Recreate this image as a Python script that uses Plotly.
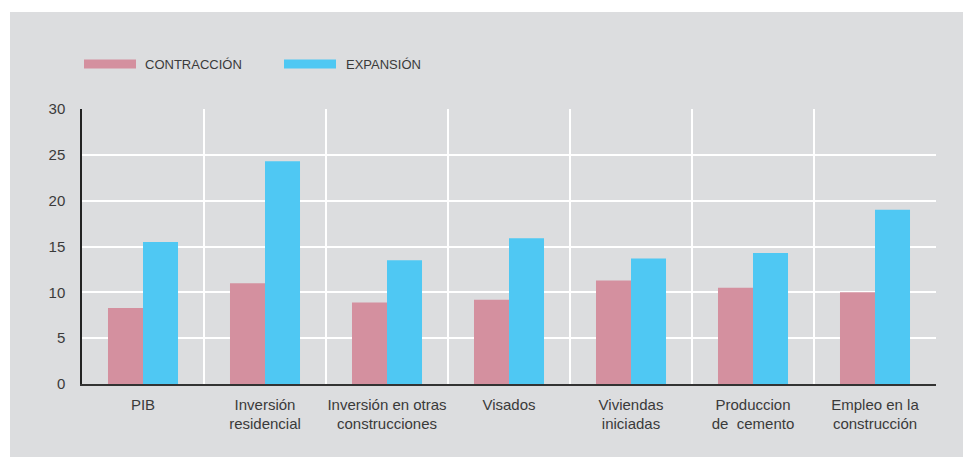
import plotly.graph_objects as go

categories = ["PIB", "Inversión<br>residencial", "Inversión en otras<br>construcciones",
              "Visados", "Viviendas<br>iniciadas", "Produccion<br>de  cemento",
              "Empleo en la<br>construcción"]
contraccion = [8.3, 11.0, 8.9, 9.2, 11.3, 10.5, 10.0]
expansion = [15.5, 24.3, 13.5, 15.9, 13.7, 14.3, 19.0]
series_names = ["CONTRACCIÓN", "EXPANSIÓN"]
yticks = [0, 5, 10, 15, 20, 25, 30]

PINK = "#d4909f"
BLUE = "#4fc8f3"
GRAY = "#dcdddf"
TEXT = "#3a3a3a"
FONT = "Liberation Sans, Arial, sans-serif"

W, H = 963, 457
L, R, T, B = 82, 27, 109, 73
PW, PH = W - L - R, H - T - B


def px(x):
    return (x - L) / PW


def py(y):
    return (H - B - y) / PH


fig = go.Figure()
fig.add_trace(go.Bar(x=categories, y=contraccion, name=series_names[0],
                     marker=dict(color=PINK, line=dict(width=0)), showlegend=False))
fig.add_trace(go.Bar(x=categories, y=expansion, name=series_names[1],
                     marker=dict(color=BLUE, line=dict(width=0)), showlegend=False))

shapes = [
    dict(type="rect", xref="paper", yref="paper", x0=px(10), x1=px(W + 5),
         y0=py(H + 5), y1=py(12), fillcolor=GRAY, line=dict(width=0), layer="below"),
    dict(type="rect", xref="paper", yref="paper", x0=px(84), x1=px(136),
         y0=py(68.5), y1=py(59.5), fillcolor=PINK, line=dict(width=0)),
    dict(type="rect", xref="paper", yref="paper", x0=px(284), x1=px(336),
         y0=py(68.5), y1=py(59.5), fillcolor=BLUE, line=dict(width=0)),
]
annotations = [
    dict(text=series_names[0], xref="paper", yref="paper", x=px(143), y=py(64),
         xanchor="left", yanchor="middle", showarrow=False,
         font=dict(size=13, color=TEXT, family=FONT)),
    dict(text=series_names[1], xref="paper", yref="paper", x=px(344), y=py(64),
         xanchor="left", yanchor="middle", showarrow=False,
         font=dict(size=13, color=TEXT, family=FONT)),
]

fig.update_layout(
    width=W, height=H,
    margin=dict(l=L, r=R, t=T, b=B, pad=0),
    paper_bgcolor="white", plot_bgcolor=GRAY,
    font=dict(family=FONT, size=15, color=TEXT),
    barmode="group", bargap=0.426, bargroupgap=0,
    shapes=shapes, annotations=annotations,
    xaxis=dict(type="category", tickson="boundaries", showgrid=True,
               gridcolor="white", gridwidth=1.5, ticks="", showline=True,
               linecolor="#333333", linewidth=1.5, tickangle=0, automargin=False,
               tickfont=dict(size=15, color=TEXT), ticklabelstandoff=6),
    yaxis=dict(range=[0, 30], tickvals=yticks, showgrid=True, gridcolor="white",
               gridwidth=1.5, zeroline=False, showline=True, linecolor="#222222",
               linewidth=1.5, ticks="", tickfont=dict(size=15, color=TEXT),
               ticklabelstandoff=12, automargin=False),
)

fig.write_html("out.html")
